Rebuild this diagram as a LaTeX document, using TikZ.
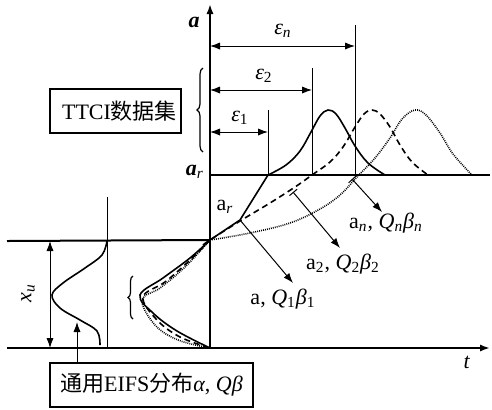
\documentclass[tikz,border=0pt]{standalone}
\usepackage{fontspec}
\setmainfont{Liberation Serif}
\newfontfamily\cjk{Noto Sans CJK SC}
\usetikzlibrary{arrows.meta,decorations.pathreplacing}
\begin{document}
\begin{tikzpicture}[x=0.5pt,y=-0.5pt,
  font=\fontsize{11}{13}\selectfont,
  axis/.style={line width=1pt},
  thinline/.style={line width=0.5pt},
  curve/.style={line width=0.8pt},
  dashcurve/.style={line width=0.8pt,dash pattern=on 3pt off 2pt},
  dotcurve/.style={line width=0.8pt,dash pattern=on 0.45pt off 0.55pt},
  tip/.style={-{Latex[length=5pt,width=3.6pt]}},
  dtip/.style={{Latex[length=5pt,width=3.6pt]}-{Latex[length=5pt,width=3.6pt]}},
  bartip/.style={{Bar[width=5pt]}-{Latex[length=5pt,width=3.6pt]}},
  boxnode/.style={draw,line width=0.6pt,inner sep=0pt},
  lbl/.style={inner sep=0pt},
  bracestyle/.style={decorate,line width=0.6pt}]
\useasboundingbox (0,0) rectangle (492,409);

% coordinates
\coordinate (O) at (210,240);
\coordinate (Otop) at (210,4);
\coordinate (B0) at (210,348);
\coordinate (Bl) at (7,348);
\coordinate (Bt) at (490,348);
\coordinate (Tl) at (7,241);
\coordinate (Ar0) at (210,175);
\coordinate (Ar1) at (490,175);

% axes
\draw[axis,tip] (B0) -- (Otop);
\draw[axis,tip] (Bl) -- (Bt);
\draw[axis] (Tl) -- (O);
\draw[axis] (Ar0) -- (Ar1);

% vertical markers
\coordinate (v1t) at (268,110); \coordinate (v1b) at (268,175);
\coordinate (v2t) at (312,68);  \coordinate (v2b) at (312,175);
\coordinate (vnt) at (355,25);  \coordinate (vnb) at (355,175);
\draw[thinline] (v1t) -- (v1b);
\draw[thinline] (v2t) -- (v2b);
\draw[thinline] (vnt) -- (vnb);

% epsilon arrows
\coordinate (e1a) at (210,132); \coordinate (e1b) at (268,132);
\coordinate (e2a) at (210,90);  \coordinate (e2b) at (312,90);
\coordinate (ena) at (210,46);  \coordinate (enb) at (355,46);
\draw[thinline,dtip] (e1a) -- (e1b);
\draw[thinline,dtip] (e2a) -- (e2b);
\draw[thinline,dtip] (ena) -- (enb);
\node[lbl] (le1) at (240,118) {\textit{ε}\textsubscript{1}};
\node[lbl] (le2) at (264,76) {\textit{ε}\textsubscript{2}};
\node[lbl] (len) at (283,31) {\textit{ε}\textsubscript{\textit{n}}};

% axis labels
\node[lbl] (la) at (194,22) {\textbf{\textit{a}}};
\node[lbl] (lar) at (195,172) {\textbf{\textit{a}}\textsubscript{\textit{r}}};
\node[lbl] (lt) at (467,362) {\textit{t}};

% TTCI box and brace
\node[boxnode,minimum width=65.5pt,minimum height=22pt] (ttci) at (115.5,111) {\hspace*{4pt}TTCI{\cjk 数据集}};
\draw[bracestyle,decoration={brace,amplitude=3pt}] (203,152) -- (203,68);

% growth curves and distributions
\coordinate (K1) at (240,220);
\draw[curve] (O) -- (K1) -- (v1b);
\draw[curve] plot[smooth,tension=0.6] coordinates {(268,175) (286,165) (300,151) (311,132) (320,116) (328,110) (336,114) (345,128) (355,146) (368,163) (385,175)};
\draw[dashcurve] plot[smooth,tension=0.6] coordinates {(203,245) (210,240) (240,221) (270,203) (295,187) (312,175) (330,162) (343,147) (355,127) (364,114) (372,110) (380,114) (390,127) (400,145) (412,162) (428,175)};
\draw[dotcurve] plot[smooth,tension=0.6] coordinates {(210,240) (250,233) (290,223) (320,209) (340,195) (357,177) (375,158) (390,138) (402,119) (415,110) (426,115) (440,133) (453,154) (472,175)};

% arrows to labels
\coordinate (K2) at (293,192);
\coordinate (Kn) at (352,179);
\coordinate (A1) at (293,283);
\coordinate (A2) at (340,248);
\coordinate (An) at (382,212);
\draw[thinline,tip] (K1) -- (A1);
\draw[thinline,bartip] (K2) -- (A2);
\draw[thinline,bartip] (Kn) -- (An);
\node[lbl] (lk) at (225,207) {a\textsubscript{\textit{r}}};
\node[lbl] (l1) at (283,299) {a, \textit{Q}\textsubscript{1}\textit{β}\textsubscript{1}};
\node[lbl] (l2) at (343,264) {a\textsubscript{2}, \textit{Q}\textsubscript{2}\textit{β}\textsubscript{2}};
\node[lbl] (ln) at (386,223) {a\textsubscript{\textit{n}}, \textit{Q}\textsubscript{\textit{n}}\textit{β}\textsubscript{\textit{n}}};

% left distribution curves
\draw[curve] plot[smooth,tension=0.6] coordinates {(210,240) (190,258) (163,278) (140,295) (153,313) (177,331) (210,348)};
\draw[dashcurve] plot[smooth,tension=0.6] coordinates {(210,240) (188,262) (165,282) (143,297) (157,320) (180,337) (210,348)};
\draw[dotcurve] plot[smooth,tension=0.6] coordinates {(210,240) (185,267) (160,288) (142,300) (155,325) (178,340) (210,348)};
\draw[bracestyle,decoration={brace,amplitude=2.5pt}] (133,319) -- (133,276);

% EIFS distribution
\coordinate (vlt) at (107,197); \coordinate (vlb) at (107,348);
\draw[thinline] (vlt) -- (vlb);
\draw[curve] plot[smooth,tension=0.6] coordinates {(107,241) (102,255) (85,268) (63,283) (52,295) (60,308) (80,320) (97,331) (100,345)};
\coordinate (xu1) at (50,241); \coordinate (xu2) at (50,348);
\draw[thinline,dtip] (xu1) -- (xu2);
\node[lbl,rotate=90] (lxu) at (28,293) {\textit{x}\textsubscript{\textit{u}}};

\node[boxnode,minimum width=101.5pt,minimum height=22pt] (eifs) at (151.5,385) {{\cjk 通用}EIFS{\cjk 分布}\textit{α}, \textit{Qβ}};
\coordinate (eb) at (77,322);
\draw[thinline,tip] (eifs.north -| eb) -- (eb);
\end{tikzpicture}
\end{document}
